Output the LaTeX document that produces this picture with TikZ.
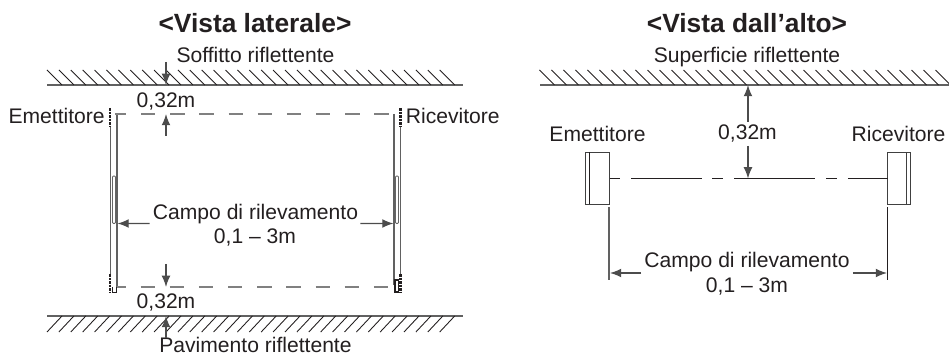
\documentclass[tikz,border=0pt]{standalone}
\usepackage{fontspec}
\setmainfont{Liberation Sans}
\usepackage{tikz}
\usetikzlibrary{arrows.meta}

\definecolor{inchiostro}{HTML}{231F20}
\tikzset{
	titolo/.style={anchor=base, font=\fontsize{15}{18}\bfseries\selectfont, text=inchiostro},
	testo/.style={anchor=base, font=\fontsize{12}{14}\selectfont, text=inchiostro, inner sep=0pt},
	linea/.style={line width=0.5pt, inchiostro},
	parete/.style={line width=0.85pt, black!62},
	quota/.style={line width=0.7pt, black!70, ->},
	asse/.style={line width=0.8pt, black!50, dash pattern=on 8.2pt off 8.4pt},
	spesso/.style={line width=1.2pt, inchiostro, dash pattern=on 1.6pt off 0.4pt}
}

\begin{document}
\begin{tikzpicture}[>={Latex[length=6.4pt,width=5pt]}]
	\useasboundingbox (0,0) rectangle (18.98,7.16);
	%%%	Disegno
	% Vista laterale
	\node[titolo] (TitoloL) at (5.10,6.50) {<Vista laterale>};
	\node[testo] (Soffitto) at (5.11,5.91) {Soffitto riflettente};
	\node[testo] (QuotaSup) at (3.32,5.01) {0,32m};
	\node[testo, anchor=base east] (EmettL) at (2.10,4.69) {Emettitore};
	\node[testo, anchor=base west] (RicevL) at (8.11,4.69) {Ricevitore};
	\node[testo] (CampoL) at (5.11,2.76) {Campo di rilevamento};
	\node[testo] (RangeL) at (5.10,2.28) {0,1 -- 3m};
	\node[testo] (QuotaInf) at (3.32,0.98) {0,32m};
	\node[testo] (Pavimento) at (5.11,0.10) {Pavimento riflettente};

	% Soffitto e pavimento
	\draw[parete] (0.94,5.46) -- (9.26,5.46);
	\foreach \i in {0,...,33}
	\draw[linea] (0.94+\i*0.238,5.76) -- (1.24+\i*0.238,5.46);
	\draw[parete] (0.94,0.84) -- (9.26,0.84);
	\foreach \i in {0,...,33}
	\draw[linea] (0.94+\i*0.238,0.52) -- (1.24+\i*0.238,0.84);

	% Emettitore
	\draw[parete] (2.21,4.64) -- (2.21,1.68);
	\draw[parete] (2.34,4.88) -- (2.34,1.42);
	\draw[linea, black!60, rounded corners=0.6pt] (2.25,2.69) rectangle (2.31,3.64);
	\draw[spesso] (2.20,5.00) -- (2.20,4.64);
	\draw[spesso] (2.20,1.68) -- (2.20,1.30);
	\draw[linea] (2.24,1.42) -- (2.24,1.32) -- (2.32,1.32) -- (2.32,1.42);

	% Ricevitore
	\draw[parete] (7.88,4.88) -- (7.88,1.46);
	\draw[parete] (8.01,4.64) -- (8.01,1.68);
	\draw[linea, black!60, rounded corners=0.6pt] (7.91,2.69) rectangle (7.97,3.64);
	\draw[spesso] (8.01,5.00) -- (8.01,4.64);
	\draw[spesso] (8.01,1.68) -- (8.01,1.30);
	\draw[line width=1pt, inchiostro] (7.88,1.56) -- (7.97,1.56) -- (7.97,1.32) -- (7.90,1.32) -- (7.90,1.56);

	% Asse e quote
	\coordinate (AsseSupA) at (2.30,4.88);
	\coordinate (AsseSupB) at (7.88,4.88);
	\coordinate (AsseInfA) at (2.34,1.42);
	\coordinate (AsseInfB) at (7.88,1.42);
	\draw[asse, dash phase=1.8pt] (AsseSupA) -- (AsseSupB);
	\draw[asse, dash phase=3.2pt] (AsseInfA) -- (AsseInfB);
	\draw[quota] (3.32,5.92) -- (3.32,5.46);
	\draw[quota] (3.32,4.44) -- (3.32,4.88);
	\draw[quota] (3.32,1.88) -- (3.32,1.42);
	\draw[quota] (3.32,0.40) -- (3.32,0.84);
	\draw[quota] (CampoL.base west) ++(-0.06,-0.07) -- (2.35,2.69);
	\draw[quota] (CampoL.base east) ++(0.04,-0.07) -- (7.87,2.69);

	% Vista dall'alto
	\node[titolo] (TitoloA) at (14.94,6.50) {<Vista dall’alto>};
	\node[testo] (Superficie) at (14.94,5.91) {Superficie riflettente};
	\node[testo] (QuotaA) at (14.95,4.36) {0,32m};
	\node[testo] (EmettA) at (11.95,4.33) {Emettitore};
	\node[testo] (RicevA) at (17.97,4.33) {Ricevitore};
	\node[testo] (CampoA) at (14.94,1.80) {Campo di rilevamento};
	\node[testo] (RangeA) at (14.94,1.30) {0,1 -- 3m};

	% Superficie
	\draw[parete] (10.80,5.46) -- (18.98,5.46);
	\foreach \i in {0,...,33}
	\draw[linea] (10.79+\i*0.24,5.76) -- (11.09+\i*0.24,5.46);

	% Emettitore e ricevitore
	\draw[linea, black!75] (11.71,3.07) rectangle (12.19,4.12);
	\draw[line width=0.8pt, inchiostro] (11.79,3.07) -- (11.79,4.12);
	\draw[linea, black!75] (17.75,3.07) rectangle (18.21,4.12);
	\draw[linea, black!75] (18.13,3.07) -- (18.13,4.12);

	% Asse e quote
	\coordinate (EmettDx) at (12.19,3.59);
	\coordinate (RicevSx) at (17.75,3.59);
	\draw[linea, dash pattern=on 6.2pt off 6.2pt on 40pt off 6.2pt on 6.2pt off 6.2pt on 46pt off 6.2pt on 6.2pt off 6.2pt on 28.5pt] (EmettDx) -- (RicevSx);
	\draw[quota] (14.96,4.72) -- (14.96,5.46);
	\draw[quota] (14.96,4.24) -- (14.96,3.59);
	\draw[parete] (12.18,3.02) -- (12.18,1.55);
	\draw[linea, line width=0.7pt] (17.75,3.02) -- (17.75,1.55);
	\draw[quota] (CampoA.base west) ++(-0.06,-0.10) coordinate (FrecciaA) -- (12.20,1.70);
	\draw[quota] (CampoA.base east) ++(0.06,-0.10) coordinate (FrecciaB) -- (17.74,1.70);
\end{tikzpicture}
\end{document}
